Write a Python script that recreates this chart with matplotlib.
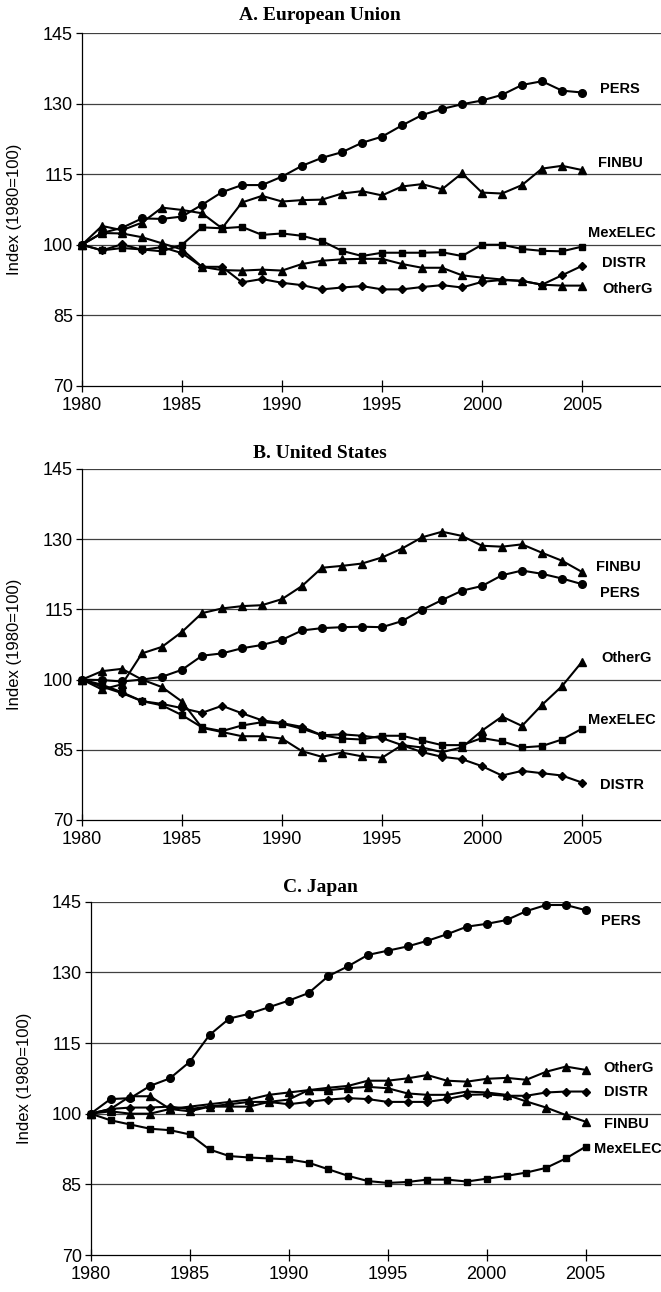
import matplotlib.pyplot as plt
import numpy as np

plt.rcParams['font.family'] = ['Liberation Sans', 'DejaVu Sans']

years = np.arange(1980, 2006)

# A. European Union
eu_pers = [100, 102.5, 103.6, 105.6, 105.5, 106.0, 108.5, 111.2, 112.7, 112.7, 114.5, 116.8, 118.5,
           119.7, 121.7, 123.0, 125.4, 127.6, 128.9, 129.9, 130.7, 131.9, 134.0, 134.8, 132.8, 132.4]
eu_finbu = [100, 104.0, 103.1, 104.7, 107.9, 107.4, 106.7, 103.5, 109.0, 110.4, 109.2, 109.5, 109.6,
            110.9, 111.4, 110.5, 112.4, 112.9, 111.8, 115.2, 111.1, 110.9, 112.7, 116.2, 116.8, 115.9]
eu_mexelec = [100, 98.8, 99.3, 99.0, 98.6, 100.0, 103.7, 103.5, 103.8, 102.1, 102.4, 101.9, 100.8,
              98.7, 97.6, 98.3, 98.3, 98.3, 98.4, 97.6, 100.0, 100.0, 99.1, 98.7, 98.6, 99.6]
eu_distr = [100, 98.8, 100.1, 98.9, 99.5, 98.2, 95.3, 95.3, 92.0, 92.7, 91.9, 91.4, 90.5,
            90.9, 91.2, 90.5, 90.5, 91.0, 91.4, 90.9, 92.1, 92.5, 92.3, 91.5, 93.5, 95.5]
eu_otherg = [100, 102.5, 102.4, 101.6, 100.3, 99.0, 95.3, 94.6, 94.5, 94.7, 94.5, 95.9, 96.6,
             96.9, 97.0, 97.0, 95.9, 95.1, 95.1, 93.5, 93.0, 92.6, 92.3, 91.5, 91.3, 91.3]

# B. United States
us_pers = [100, 99.9, 99.6, 100.0, 100.6, 102.1, 105.1, 105.6, 106.7, 107.4, 108.5, 110.5, 111.0,
           111.2, 111.3, 111.2, 112.5, 114.9, 117.0, 119.0, 120.0, 122.3, 123.3, 122.6, 121.6, 120.4]
us_finbu = [100, 97.9, 99.0, 105.6, 107.0, 110.2, 114.2, 115.2, 115.7, 115.9, 117.2, 120.0, 123.9,
            124.3, 124.8, 126.1, 128.0, 130.4, 131.6, 130.7, 128.6, 128.4, 128.9, 127.1, 125.4, 123.0]
us_mexelec = [100, 98.9, 97.3, 95.4, 94.5, 92.4, 89.8, 89.0, 90.2, 90.9, 90.6, 89.5, 88.1,
              87.4, 87.2, 88.0, 88.0, 87.0, 86.0, 86.0, 87.5, 86.8, 85.5, 85.8, 87.2, 89.5]
us_distr = [100, 98.5, 97.1, 95.4, 94.8, 93.9, 92.9, 94.4, 92.8, 91.3, 90.7, 89.9, 88.1,
            88.3, 88.0, 87.5, 86.0, 84.5, 83.5, 83.0, 81.5, 79.5, 80.5, 80.0, 79.5, 78.0]
us_otherg = [100, 101.8, 102.3, 100.0, 98.4, 95.3, 89.7, 88.8, 87.9, 87.9, 87.4, 84.7, 83.5,
             84.4, 83.6, 83.3, 86.0, 85.5, 84.5, 85.5, 89.1, 92.1, 90.1, 94.6, 98.6, 103.8]

# C. Japan
jp_pers = [100, 103.1, 103.3, 105.9, 107.5, 111.0, 116.7, 120.2, 121.2, 122.6, 124.0, 125.6, 129.2,
           131.3, 133.7, 134.6, 135.5, 136.7, 138.1, 139.7, 140.3, 141.1, 143.0, 144.3, 144.3, 143.2]
jp_otherg = [100, 100.5, 100.0, 100.0, 101.0, 101.5, 102.0, 102.5, 103.0, 104.0, 104.5, 105.0, 105.5,
             105.9, 107.0, 107.0, 107.5, 108.2, 107.0, 106.8, 107.4, 107.6, 107.2, 108.9, 110.0, 109.3]
jp_finbu = [100, 101.0, 103.7, 103.7, 101.0, 100.5, 101.5, 101.5, 101.5, 102.5, 103.0, 105.0, 105.0,
            105.4, 105.7, 105.4, 104.3, 104.0, 104.0, 104.7, 104.5, 104.0, 102.6, 101.3, 99.7, 98.3]
jp_distr = [100, 101.0, 101.3, 101.3, 101.5, 101.0, 101.5, 102.0, 102.5, 102.5, 102.0, 102.5, 103.0,
            103.3, 103.1, 102.5, 102.5, 102.5, 103.1, 104.0, 104.1, 103.8, 103.8, 104.5, 104.7, 104.7]
jp_mexelec = [100, 98.6, 97.7, 96.8, 96.5, 95.6, 92.4, 91.0, 90.7, 90.5, 90.3, 89.6, 88.2,
              86.8, 85.7, 85.3, 85.5, 86.0, 86.0, 85.6, 86.2, 86.8, 87.5, 88.5, 90.5, 93.0]

markers = {'PERS': 'o', 'FINBU': '^', 'MexELEC': 's', 'DISTR': 'D', 'OtherG': '^'}
msizes = {'o': 5.5, '^': 6, 's': 4.5, 'D': 4}

panels = [
    ('A. European Union',
     {'PERS': eu_pers, 'FINBU': eu_finbu, 'MexELEC': eu_mexelec, 'DISTR': eu_distr, 'OtherG': eu_otherg},
     {'PERS': (2005.9, 133.1), 'FINBU': (2005.8, 117.5), 'MexELEC': (2005.3, 102.4),
      'DISTR': (2006.0, 96.2), 'OtherG': (2006.0, 90.5)}),
    ('B. United States',
     {'PERS': us_pers, 'FINBU': us_finbu, 'MexELEC': us_mexelec, 'DISTR': us_distr, 'OtherG': us_otherg},
     {'PERS': (2005.9, 118.6), 'FINBU': (2005.7, 124.1), 'MexELEC': (2005.3, 91.4),
      'DISTR': (2005.9, 77.5), 'OtherG': (2005.95, 104.6)}),
    ('C. Japan',
     {'PERS': jp_pers, 'FINBU': jp_finbu, 'MexELEC': jp_mexelec, 'DISTR': jp_distr, 'OtherG': jp_otherg},
     {'PERS': (2005.75, 140.9), 'FINBU': (2005.9, 97.9), 'MexELEC': (2005.4, 92.6),
      'DISTR': (2005.9, 104.6), 'OtherG': (2005.9, 109.6)}),
]

W, H = 661, 1292
# axes boxes in pixels: left, top, right, bottom
boxes = [(82, 33.3, 661, 385.7), (82, 469, 661, 820), (90.7, 901.7, 661, 1255)]
title_y = [16, 453, 887]

fig = plt.figure(figsize=(W / 100, H / 100), dpi=100)

for (title, series, labels), (l, t, r, b), ty in zip(panels, boxes, title_y):
    ax = fig.add_axes([l / W, 1 - b / H, (r - l) / W, (b - t) / H])
    px_per_year = 20 if l < 85 else 19.8
    ax.set_xlim(1980, 1980 + (r - l) / px_per_year)
    ax.set_ylim(70, 145)
    for yv in [85, 100, 115, 130, 145]:
        ax.axhline(yv, color='0.25', lw=0.9, zorder=1)
    for name, vals in series.items():
        m = markers[name]
        ax.plot(years, vals, color='black', lw=1.5, marker=m, markersize=msizes[m],
                markeredgecolor='black', zorder=3, clip_on=False)
        lx, ly = labels[name]
        ax.text(lx, ly, name, fontsize=10.5, fontweight='bold', ha='left', va='center', clip_on=False)
    ax.set_xticks([1980, 1985, 1990, 1995, 2000, 2005])
    ax.set_yticks([70, 85, 100, 115, 130, 145])
    ax.tick_params(axis='x', direction='inout', length=8, width=0.9, labelsize=13, pad=4)
    ax.tick_params(axis='y', direction='out', length=4.5, width=0.9, labelsize=13, pad=2)
    for s in ['top', 'right']:
        ax.spines[s].set_visible(False)
    for s in ['left', 'bottom']:
        ax.spines[s].set_linewidth(0.9)
    fig.text(320 / W, 1 - ty / H, title, fontsize=14, fontweight='bold',
             family='Liberation Serif', ha='center', va='center')
    fig.text((15 if l < 85 else 25) / W, 1 - (t + b) / 2 / H, 'Index (1980=100)',
             fontsize=12, rotation=90, ha='center', va='center')

fig.savefig('out.png', dpi=100)
